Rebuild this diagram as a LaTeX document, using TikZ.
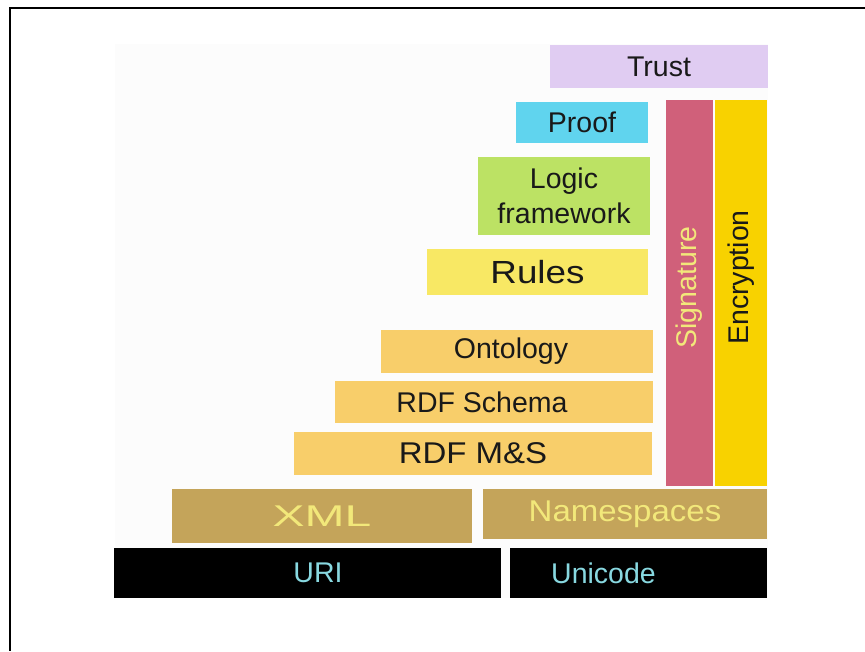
\documentclass[tikz,border=0pt]{standalone}
\usepackage{fontspec}
\setmainfont{Liberation Sans}

\definecolor{trustpurple}{RGB}{224,204,242}
\definecolor{proofcyan}{RGB}{96,212,238}
\definecolor{logicgreen}{RGB}{188,226,100}
\definecolor{rulesyellow}{RGB}{248,232,100}
\definecolor{rdforange}{RGB}{248,206,106}
\definecolor{xmltan}{RGB}{196,164,90}
\definecolor{sigrose}{RGB}{208,96,122}
\definecolor{encgold}{RGB}{248,210,0}
\definecolor{paleyellow}{RGB}{242,232,122}
\definecolor{unicyan}{RGB}{136,216,224}

\begin{document}
\begin{tikzpicture}[x=1pt, y=-1pt]
      \tikzstyle{every node}=[rectangle, inner sep=0pt, text=black!90,
        font=\fontsize{28.5}{35}\selectfont]
      \useasboundingbox (0,0) rectangle (865,651);
      \draw[line width=2pt] (865,8) -- (10,8) -- (10,651);
      \fill[black!1] (115,44) rectangle (768,598);

      % top of the stack
      \path (659, 66.5) node[fill=trustpurple, minimum width=218, minimum height=43] (trust) {Trust};
      \path (582, 122.5) node[fill=proofcyan, minimum width=132, minimum height=41] (proof) {Proof};
      \path (564, 196) node[fill=logicgreen, minimum width=172, minimum height=78,
        align=center, font=\fontsize{28.5}{35}\selectfont] (logic) {Logic\\framework};
      \path (537.5, 272) node[fill=rulesyellow, minimum width=221, minimum height=46,
        font=\fontsize{32}{36}\selectfont] (rules) {\scalebox{1.15}[1]{Rules}};

      % RDF layers
      \path (517, 351.5) node[fill=rdforange, minimum width=272, minimum height=43] (onto) {Ontology\hspace*{12pt}};
      \path (494, 402) node[fill=rdforange, minimum width=318, minimum height=42] (rdfs) {RDF Schema\hspace*{24pt}};
      \path (473, 453.5) node[fill=rdforange, minimum width=358, minimum height=43,
        font=\fontsize{30}{35}\selectfont] (rdfms) {\scalebox{1.1}[1]{RDF M\&S}};

      % XML and below
      \path (322, 516) node[fill=xmltan, text=paleyellow, minimum width=300, minimum height=54,
        font=\fontsize{30}{35}\selectfont] (xml) {\scalebox{1.6}[1]{XML}};
      \path (625, 514) node[fill=xmltan, text=paleyellow, minimum width=284, minimum height=50,
        font=\fontsize{30}{35}\selectfont] (ns) {\scalebox{1.1}[1]{Namespaces}};
      \path (307.5, 573) node[fill=black, text=unicyan, minimum width=387, minimum height=50] (uri) {\hspace*{21pt}URI};
      \path (638.5, 573) node[fill=black, text=unicyan, minimum width=257, minimum height=50] (unicode) {Unicode\hspace*{70pt}};

      % vertical columns
      \path (689.5, 293) node[fill=sigrose, text=paleyellow, rotate=90,
        minimum width=386, minimum height=47] (sig) {\hspace*{11pt}Signature};
      \path (741, 293) node[fill=encgold, rotate=90,
        minimum width=386, minimum height=52] (enc) {\hspace*{31pt}Encryption};
    \end{tikzpicture}
\end{document}
